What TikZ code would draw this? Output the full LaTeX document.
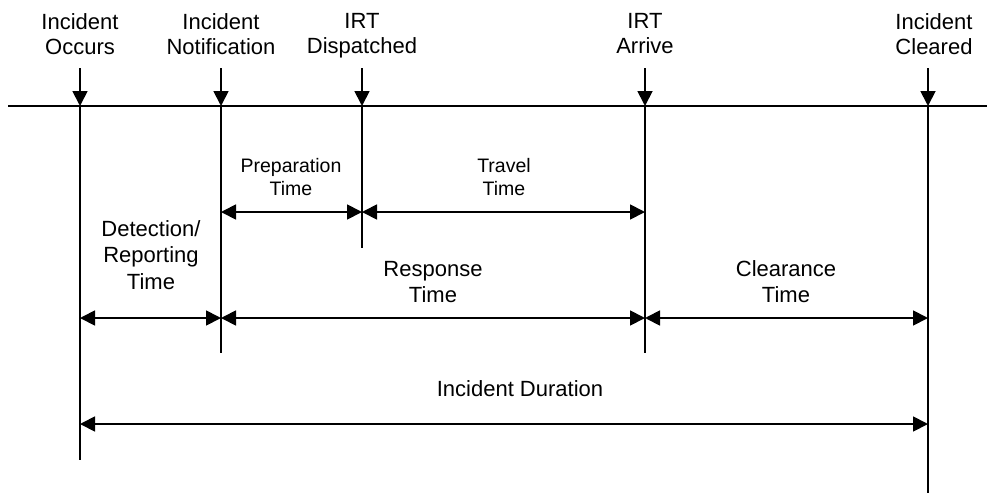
\documentclass[tikz,border=0pt]{standalone}
\usepackage{fontspec}
\setmainfont{Liberation Sans}
\usetikzlibrary{arrows.meta}
\begin{document}
\begin{tikzpicture}[x=1pt,y=-1pt,
  ln/.style={line width=1.8pt},
  down/.style={ln,-{Triangle[length=15pt,width=15pt]}},
  dim/.style={ln,{Triangle[length=15pt,width=15pt]}-{Triangle[length=15pt,width=15pt]}},
  top/.style={font=\fontsize{22}{25}\selectfont, align=center, inner sep=0pt, anchor=north},
  big/.style={font=\fontsize{22}{26.5}\selectfont, align=center, inner sep=0pt, anchor=north},
  small/.style={font=\fontsize{19.5}{23}\selectfont, align=center, inner sep=0pt, anchor=north}]
\useasboundingbox (0,0) rectangle (987,493);

% horizontal time line
\coordinate (L) at (8,106);
\coordinate (R) at (987,106);
\draw[ln] (L) -- (R);

% event positions on the time line
\coordinate (occ) at (80,106);
\coordinate (noti) at (221,106);
\coordinate (disp) at (362,106);
\coordinate (arr) at (645,106);
\coordinate (clr) at (928,106);

% top ends of event arrows
\coordinate (occT) at (80,68);
\coordinate (notiT) at (221,68);
\coordinate (dispT) at (362,68);
\coordinate (arrT) at (645,68);
\coordinate (clrT) at (928,68);

% bottom ends of vertical lines
\coordinate (occB) at (80,460);
\coordinate (notiB) at (221,353);
\coordinate (dispB) at (362,248);
\coordinate (arrB) at (645,353);
\coordinate (clrB) at (928,493);

% levels of dimension arrows
\coordinate (y1) at (0,212);
\coordinate (y2) at (0,318);
\coordinate (y3) at (0,424);

% event labels
\node[top] (tocc) at (80,13) {Incident\\Occurs};
\node[top] (tnoti) at (221,13) {Incident\\Notification};
\node[top] (tdisp) at (362,13) {IRT\\Dispatched};
\node[top] (tarr) at (645,13) {IRT\\Arrive};
\node[top] (tclr) at (934,13) {Incident\\Cleared};

% event arrows
\draw[down] (occT) -- (occ);
\draw[down] (notiT) -- (noti);
\draw[down] (dispT) -- (disp);
\draw[down] (arrT) -- (arr);
\draw[down] (clrT) -- (clr);

% vertical lines
\draw[ln] (occ) -- (occB);
\draw[ln] (noti) -- (notiB);
\draw[ln] (disp) -- (dispB);
\draw[ln] (arr) -- (arrB);
\draw[ln] (clr) -- (clrB);

% interval labels
\node[small] (prep) at (291,158) {Preparation\\Time};
\node[small] (trav) at (504,158) {Travel\\Time};
\node[big] (det) at (151,220) {Detection/\\Reporting\\Time};
\node[big] (resp) at (433,261) {Response\\Time};
\node[big] (clear) at (786,260) {Clearance\\Time};
\node[big] (dur) at (520,380) {Incident Duration};

% dimension arrows
\draw[dim] (noti |- y1) -- (disp |- y1);
\draw[dim] (disp |- y1) -- (arr |- y1);
\draw[dim] (occ |- y2) -- (noti |- y2);
\draw[dim] (noti |- y2) -- (arr |- y2);
\draw[dim] (arr |- y2) -- (clr |- y2);
\draw[dim] (occ |- y3) -- (clr |- y3);
\end{tikzpicture}
\end{document}
